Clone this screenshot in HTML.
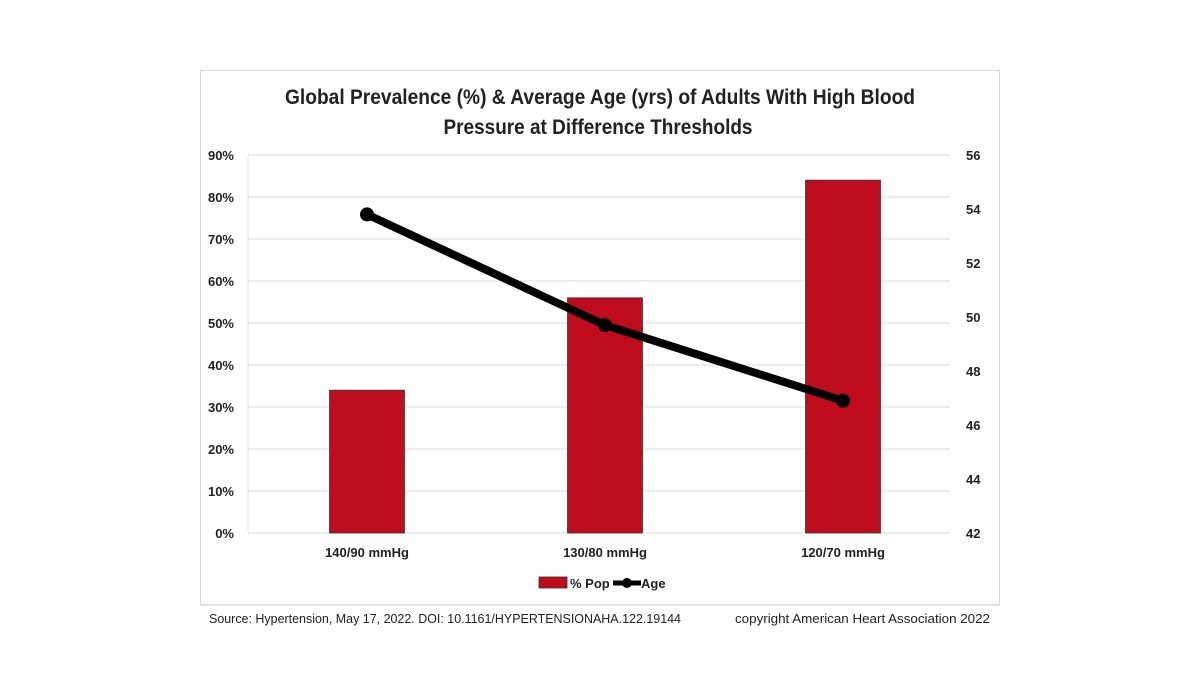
<!DOCTYPE html>
<html><head><meta charset="utf-8"><style>
body{margin:0;background:#fff;width:1200px;height:675px;overflow:hidden;font-family:"Liberation Sans",Arial,sans-serif}
svg text{font-family:"Liberation Sans",Arial,sans-serif}
</style></head><body>
<svg width="1200" height="675">
<rect x="200.5" y="70.5" width="799" height="534" fill="#fff" stroke="#d9d9d9"/>
<text x="600" y="104" text-anchor="middle" font-size="21" font-weight="bold" fill="#222" textLength="630" lengthAdjust="spacingAndGlyphs">Global Prevalence (%) &amp; Average Age (yrs) of Adults With High Blood</text>
<text x="598" y="134" text-anchor="middle" font-size="21" font-weight="bold" fill="#222" textLength="309" lengthAdjust="spacingAndGlyphs">Pressure at Difference Thresholds</text>
<g id="grid"></g><g id="bars"></g><g id="line"></g><g id="axes"></g>
<g>
<rect x="539" y="577" width="28" height="11" fill="#c00d1e" stroke="#333" stroke-width="0.8"/>
<text x="570" y="588" font-size="13" font-weight="bold" fill="#222">% Pop</text>
<line x1="613" y1="583" x2="641" y2="583" stroke="#000" stroke-width="5"/>
<circle cx="627" cy="583" r="5" fill="#000"/>
<text x="641" y="588" font-size="13" font-weight="bold" fill="#222">Age</text>
</g>
<line x1="200" y1="605" x2="1000" y2="605" stroke="#d9d9d9"/>
<text x="209" y="623" font-size="13" fill="#222" textLength="472" lengthAdjust="spacingAndGlyphs">Source: Hypertension, May 17, 2022. DOI: 10.1161/HYPERTENSIONAHA.122.19144</text>
<text x="735" y="623" font-size="13" fill="#222" textLength="255" lengthAdjust="spacingAndGlyphs">copyright American Heart Association 2022</text>
</svg>
<script>
const categories=["140/90 mmHg","130/80 mmHg","120/70 mmHg"];
const popValues=[34,56,84];
const ageValues=[53.8,49.7,46.9];
const leftTicks=[0,10,20,30,40,50,60,70,80,90];
const rightTicks=[42,44,46,48,50,52,54,56];
const NS="http://www.w3.org/2000/svg";
const L=248,R=962,T=155,B=533;
const yL=v=>B-(v/90)*(B-T);
const yR=v=>B-((v-42)/14)*(B-T);
const band=(R-L)/categories.length;
const xC=i=>L+band*(i+0.5);
function mk(p,tag,a){const e=document.createElementNS(NS,tag);for(const k in a)e.setAttribute(k,a[k]);document.getElementById(p).appendChild(e);return e;}
leftTicks.forEach(t=>{
 const g=mk("grid","line",{x1:L,x2:950,y1:yL(t),y2:yL(t),stroke:"#d9d9d9","stroke-width":1});
 
 
 const tx=mk("axes","text",{x:234,y:yL(t)+5,"text-anchor":"end","font-size":13,"font-weight":"bold",fill:"#222"});
 tx.textContent=t+"%";
 
 
});
const ax=mk("grid","line",{x1:L,x2:L,y1:T,y2:B,stroke:"#d9d9d9"});


rightTicks.forEach(t=>{
 const tx=mk("axes","text",{x:966,y:yR(t)+5,"font-size":13,"font-weight":"bold",fill:"#222"});
 tx.textContent=t;
 
 
});
const bw=band*0.315;
categories.forEach((c,i)=>{
 const r=mk("bars","rect",{x:xC(i)-bw/2,y:yL(popValues[i]),width:bw,height:B-yL(popValues[i]),fill:"#c00d1e",stroke:"#333","stroke-width":0.8});
 
 
 const tx=mk("axes","text",{x:xC(i),y:557,"text-anchor":"middle","font-size":13,"font-weight":"bold",fill:"#222"});
 tx.textContent=c;
 
 
});
const pl=mk("line","polyline",{points:ageValues.map((v,i)=>xC(i)+","+yR(v)).join(" "),fill:"none",stroke:"#000","stroke-width":8,"stroke-linejoin":"round"});


ageValues.forEach((v,i)=>{
 const c=mk("line","circle",{cx:xC(i),cy:yR(v),r:7,fill:"#000"});
 
 
});
</script>
</body></html>
